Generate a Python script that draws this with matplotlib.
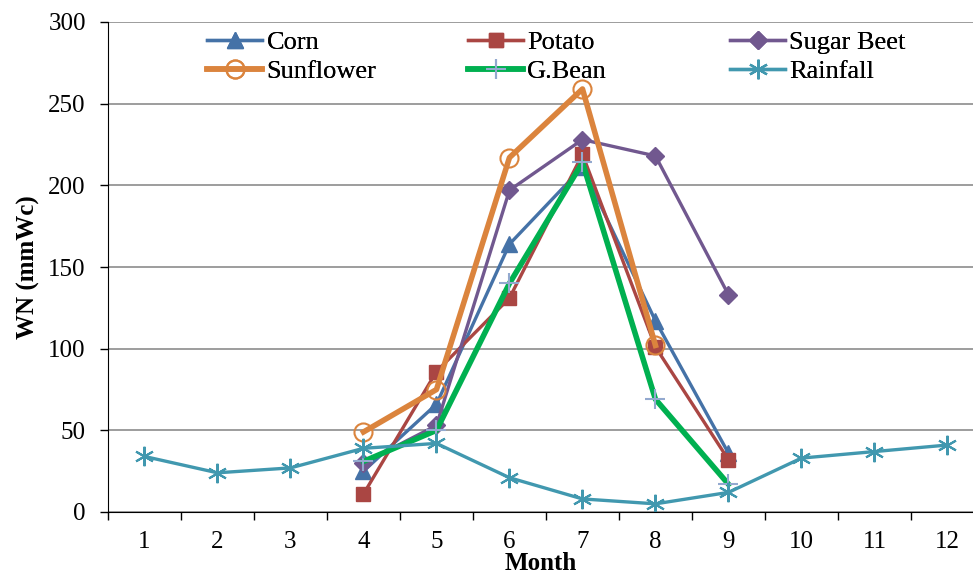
import matplotlib.pyplot as plt

plt.rcParams['font.family'] = ['Liberation Serif', 'DejaVu Serif']

months = list(range(1, 13))
crop_months = [4, 5, 6, 7, 8, 9]

corn = [25, 66, 164, 211, 117, 36]
potato = [11, 86, 131, 219, 101, 32]
sugar_beet = [30, 53, 197, 228, 218, 133]
sunflower = [49, 75, 217, 259, 102]
g_bean = [31, 50, 140, 214, 69, 17]
rainfall = [34, 24, 27, 39, 42, 21, 8, 5, 12, 33, 37, 41]

W, H = 973, 574
fig = plt.figure(figsize=(W / 100, H / 100), dpi=100)
ax = fig.add_axes([108 / W, 1 - 512 / H, 1 - 108 / W, (512 - 22) / H])

l_corn, = ax.plot(crop_months, corn, color='#4572A7', lw=2.4, marker='^', ms=11, label='Corn')
l_pot, = ax.plot(crop_months, potato, color='#AA4643', lw=2.4, marker='s', ms=10, label='Potato')
l_sb, = ax.plot(crop_months, sugar_beet, color='#71588F', lw=2.4, marker='D', ms=9,
                label='Sugar Beet')
l_sun, = ax.plot(crop_months[:5], sunflower, color='#DB843D', lw=4, marker='o', ms=13,
                 mfc='none', mec='#DB843D', mew=1.5, label='Sunflower')
l_gb, = ax.plot(crop_months, g_bean, color='#00B050', lw=4, marker='+', ms=14,
                mec='#93A9CF', mew=1.5, label='G.Bean')
l_rain, = ax.plot(months, rainfall, color='#4198AF', lw=2.4, marker=(6, 2, 0), ms=14,
                  mew=1.5, label='Rainfall')

ax.set_ylim(0, 300)
ax.set_xlim(0.5, 12.35)
ax.set_yticks(range(0, 301, 50))
ax.set_xticks(months)
ax.set_xticks([m + 0.5 for m in range(0, 12)], minor=True)
ax.tick_params(axis='x', which='major', length=0, labelsize=18, pad=14)
ax.tick_params(axis='x', which='minor', length=6, width=1)
ax.tick_params(axis='y', length=6, width=1, labelsize=18, pad=10)
ax.yaxis.grid(True, color='#8c8c8c', lw=1.2)
ax.set_axisbelow(True)
for s in ['top', 'right']:
    ax.spines[s].set_visible(False)

ax.set_ylabel('WN (mmWc)', fontsize=18, fontweight='bold', labelpad=6)
ax.set_xlabel('Month', fontsize=18, fontweight='bold', labelpad=-1)

# three legend columns, placed by hand
columns = [([l_corn, l_sun], 207), ([l_pot, l_gb], 468), ([l_sb, l_rain], 730)]
for handles, x0 in columns:
    leg = fig.legend(handles=handles, loc='upper left',
                     bbox_to_anchor=(x0 / W, 1 - 31 / H), frameon=False,
                     fontsize=19, handlelength=2.1, handletextpad=0.15,
                     labelspacing=0.2, borderpad=0, borderaxespad=0)
    fig.add_artist(leg)

fig.savefig('out.png', dpi=100)
